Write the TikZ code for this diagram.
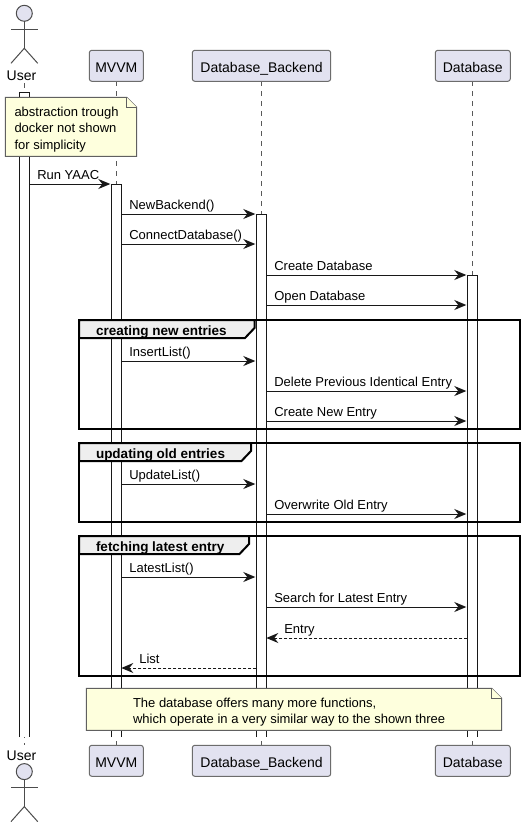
\documentclass[tikz,border=0pt]{standalone}
\usepackage{fontspec}
\setmainfont{Liberation Sans}
\usetikzlibrary{arrows.meta,calc}
\definecolor{partfill}{HTML}{E2E2F0}
\definecolor{notefill}{HTML}{FEFFDD}
\definecolor{headfill}{HTML}{EEEEEE}
\definecolor{inkdark}{HTML}{181818}
\tikzset{
  every picture/.style={line width=1pt},
  part/.style={draw=gray!85!black, fill=partfill, rounded corners=2.5pt, minimum height=31pt, inner sep=0pt, text height=13pt, text depth=0pt, font=\fontsize{14}{16}\selectfont},
  actorname/.style={anchor=base, inner sep=0pt, font=\fontsize{14}{16}\selectfont},
  lifeline/.style={draw=gray!70!black, dash pattern=on 5pt off 5pt},
  bar/.style={fill=white, minimum width=10pt, inner sep=0pt, outer sep=0pt, anchor=north},
  msg/.style={draw=inkdark, -{Stealth[length=12pt,width=10pt,inset=4pt]}, shorten >=1pt},
  reply/.style={draw=inkdark, densely dashed, -{Stealth[length=12pt,width=10pt,inset=4pt,sep=0pt]}},
  msgtext/.style={anchor=base west, inner sep=0pt, yshift=5pt, font=\fontsize{13}{15}\selectfont},
  notebox/.style={draw=gray!75!black, fill=notefill},
  notetext/.style={anchor=base west, inner sep=0pt, font=\fontsize{13}{15}\selectfont},
  frame/.style={draw=black, line width=2pt},
  framehead/.style={draw=black, line width=2pt, fill=headfill},
  frametext/.style={anchor=base west, inner sep=0pt, font=\fontsize{13.5}{15}\selectfont\bfseries},
  stick/.style={draw=gray!60!black},
}

\begin{document}
\begin{tikzpicture}[x=1pt,y=-1pt]
    \useasboundingbox[fill=white] (0,0) rectangle (525,827);

    % actors
    \foreach \off in {0,758.3} {
        \draw[stick, fill=partfill] (24.3,13.3+\off) circle (8pt);
        \draw[stick] (24.3,21.3+\off) -- (24.3,48.3+\off);
        \draw[stick] (11,29+\off) -- (37.7,29+\off);
        \draw[stick] (11,63.3+\off) -- (24.3,48.3+\off) -- (37.7,63.3+\off);
    }
    \node[actorname] (userTop) at (21.5,80) {User};
    \node[actorname] (userBottom) at (21.5,760) {User};

    % lifelines
    \coordinate (userLineTop) at (24.3,83);
    \coordinate (userLineBottom) at (24.3,745);
    \coordinate (mvvmLineTop) at (116.3,81);
    \coordinate (mvvmLineBottom) at (116.3,745);
    \coordinate (backendLineTop) at (261.5,81);
    \coordinate (backendLineBottom) at (261.5,745);
    \coordinate (databaseLineTop) at (472.3,81);
    \coordinate (databaseLineBottom) at (472.3,745);
    \draw[lifeline] (userLineTop) -- (userLineBottom);
    \draw[lifeline] (mvvmLineTop) -- (mvvmLineBottom);
    \draw[lifeline] (backendLineTop) -- (backendLineBottom);
    \draw[lifeline] (databaseLineTop) -- (databaseLineBottom);

    % participants
    \node[part, minimum width=54pt] (mvvmTop) at (116.3,65.8) {MVVM};
    \node[part, minimum width=138.4pt] (backendTop) at (261.5,65.8) {Database\_Backend};
    \node[part, minimum width=75pt] (databaseTop) at (472.8,65.8) {Database};
    \node[part, minimum width=54pt] (mvvmBottom) at (116.3,760.8) {MVVM};
    \node[part, minimum width=138.4pt] (backendBottom) at (261.5,760.8) {Database\_Backend};
    \node[part, minimum width=75pt] (databaseBottom) at (472.8,760.8) {Database};

    % activation bars
    \node[bar, minimum height=645pt] (barUser) at (24.3,92) {};
    \node[bar, minimum height=553pt] (barMvvm) at (116.3,184) {};
    \node[bar, minimum height=523pt] (barBackend) at (261.3,214) {};
    \node[bar, minimum height=462pt] (barDatabase) at (472.3,275) {};
    \foreach \b in {barUser,barMvvm,barBackend,barDatabase}
        \draw[inkdark] (\b.south west) -- (\b.north west) -- (\b.north east) -- (\b.south east);

    % first messages
    \draw[msg] (barUser.east |- 0,184) -- (barMvvm.west |- 0,184) node[msgtext, at start, xshift=7.5pt] (runYaac) {Run YAAC};
    \draw[msg] (barMvvm.east |- 0,214) -- (barBackend.west |- 0,214) node[msgtext, at start, xshift=7.5pt] (newBackend) {NewBackend()};
    \draw[msg] (barMvvm.east |- 0,244) -- (barBackend.west |- 0,244) node[msgtext, at start, xshift=7.5pt] (connectDb) {ConnectDatabase()};
    \draw[msg] (barBackend.east |- 0,275) -- (barDatabase.west |- 0,275) node[msgtext, at start, xshift=7.5pt] (createDb) {Create Database};
    \draw[msg] (barBackend.east |- 0,305) -- (barDatabase.west |- 0,305) node[msgtext, at start, xshift=7.5pt] (openDb) {Open Database};

    % group: creating
    \draw[frame] (79,320) rectangle (520,429);
    \draw[framehead] (79,320) -- (254.5,320) -- (254.5,328) -- (245,338) -- (79,338) -- cycle;
    \node[frametext] (creatingTitle) at (95.5,335) {creating new entries};
    \draw[msg] (barMvvm.east |- 0,361) -- (barBackend.west |- 0,361) node[msgtext, at start, xshift=7.5pt] (insertList) {InsertList()};
    \draw[msg] (barBackend.east |- 0,391) -- (barDatabase.west |- 0,391) node[msgtext, at start, xshift=7.5pt] (deleteEntry) {Delete Previous Identical Entry};
    \draw[msg] (barBackend.east |- 0,421) -- (barDatabase.west |- 0,421) node[msgtext, at start, xshift=7.5pt] (createEntry) {Create New Entry};

    % group: updating
    \draw[frame] (79,443) rectangle (520,522);
    \draw[framehead] (79,443) -- (251,443) -- (251,451) -- (241.5,461) -- (79,461) -- cycle;
    \node[frametext] (updatingTitle) at (95.5,458) {updating old entries};
    \draw[msg] (barMvvm.east |- 0,484) -- (barBackend.west |- 0,484) node[msgtext, at start, xshift=7.5pt] (updateList) {UpdateList()};
    \draw[msg] (barBackend.east |- 0,514) -- (barDatabase.west |- 0,514) node[msgtext, at start, xshift=7.5pt] (overwriteEntry) {Overwrite Old Entry};

    % group: fetching
    \draw[frame] (79,536) rectangle (520,676);
    \draw[framehead] (79,536) -- (249,536) -- (249,544) -- (239.5,554) -- (79,554) -- cycle;
    \node[frametext] (fetchingTitle) at (95.5,551) {fetching latest entry};
    \draw[msg] (barMvvm.east |- 0,577) -- (barBackend.west |- 0,577) node[msgtext, at start, xshift=7.5pt] (latestList) {LatestList()};
    \draw[msg] (barBackend.east |- 0,607) -- (barDatabase.west |- 0,607) node[msgtext, at start, xshift=7.5pt] (searchEntry) {Search for Latest Entry};
    \draw[reply] (barDatabase.west |- 0,638) -- (barBackend.east |- 0,638) node[msgtext, at end, xshift=17.5pt] (entryReply) {Entry};
    \draw[reply] (barBackend.west |- 0,668) -- (barMvvm.east |- 0,668) node[msgtext, at end, xshift=17.5pt] (listReply) {List};

    % notes
    \draw[notebox] (5.3,97.3) -- (126.7,97.3) -- (136.7,107.3) -- (136.7,156.3) -- (5.3,156.3) -- cycle;
    \draw[notebox] (126.7,97.3) -- (126.7,107.3) -- (136.7,107.3);
    \node[notetext] (dockerA) at (14,116) {abstraction trough};
    \node[notetext] (dockerB) at (14,132) {docker not shown};
    \node[notetext] (dockerC) at (14,149) {for simplicity};
    \draw[notebox] (86.3,688.3) -- (491.7,688.3) -- (501.7,698.3) -- (501.7,730.3) -- (86.3,730.3) -- cycle;
    \draw[notebox] (491.7,688.3) -- (491.7,698.3) -- (501.7,698.3);
    \node[notetext] (moreA) at (132.5,707) {The database offers many more functions,};
    \node[notetext] (moreB) at (132.5,723) {which operate in a very similar way to the shown three};
\end{tikzpicture}
\end{document}
